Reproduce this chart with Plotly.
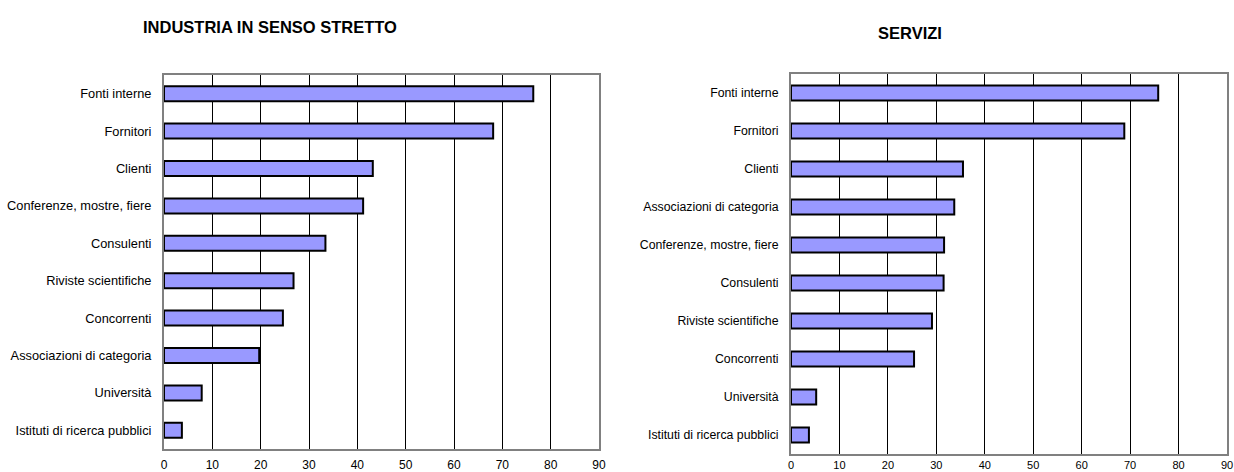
import plotly.graph_objects as go
from plotly.subplots import make_subplots

# ---- data ----
cat_industria = ["Fonti interne", "Fornitori", "Clienti", "Conferenze, mostre, fiere",
                 "Consulenti", "Riviste scientifiche", "Concorrenti",
                 "Associazioni di categoria", "Università", "Istituti di ricerca pubblici"]
val_industria = [76.4, 68.1, 43.2, 41.2, 33.4, 26.8, 24.6, 19.7, 7.8, 3.7]

cat_servizi = ["Fonti interne", "Fornitori", "Clienti", "Associazioni di categoria",
               "Conferenze, mostre, fiere", "Consulenti", "Riviste scientifiche",
               "Concorrenti", "Università", "Istituti di ricerca pubblici"]
val_servizi = [75.8, 68.8, 35.5, 33.7, 31.6, 31.5, 29.1, 25.4, 5.2, 3.7]

title_industria = "INDUSTRIA IN SENSO STRETTO"
title_servizi = "SERVIZI"
x_ticks = [0, 10, 20, 30, 40, 50, 60, 70, 80, 90]

W, H = 1234, 472
FONT = "Liberation Sans, Arial, sans-serif"
BAR_FILL = "#9999FF"

fig = make_subplots(rows=1, cols=2)

fig.add_trace(go.Bar(y=cat_industria, x=val_industria, orientation="h", width=0.4,
                     marker=dict(color=BAR_FILL, line=dict(color="black", width=2)),
                     showlegend=False), row=1, col=1)
fig.add_trace(go.Bar(y=cat_servizi, x=val_servizi, orientation="h", width=0.4,
                     marker=dict(color=BAR_FILL, line=dict(color="black", width=2)),
                     showlegend=False), row=1, col=2)

def px_x(a, b):
    return [a / W, b / W]

def px_y(top, bottom):
    return [1 - bottom / H, 1 - top / H]

xcommon = dict(range=[0, 90], tickvals=x_ticks, showgrid=True, gridcolor="black", gridwidth=1,
               zeroline=False, showline=True, linecolor="#808080", linewidth=2, mirror=True,
               tickcolor="rgba(0,0,0,0)", automargin=False, fixedrange=True)
ycommon = dict(autorange="reversed", showgrid=False, zeroline=False, showline=True,
               linecolor="#808080", linewidth=2, mirror=True, automargin=False,
               ticks="outside", ticklen=8, tickcolor="rgba(0,0,0,0)", fixedrange=True)

fig.update_layout(
    width=W, height=H, margin=dict(l=0, r=0, t=0, b=0),
    paper_bgcolor="white", plot_bgcolor="white", bargap=0.6,
    xaxis=dict(domain=px_x(164, 599), ticks="outside", ticklen=4,
               tickfont=dict(family=FONT, size=12, color="black"), **xcommon),
    xaxis2=dict(domain=px_x(791, 1227), ticks="",
                tickfont=dict(family=FONT, size=11, color="black"), **xcommon),
    yaxis=dict(domain=px_y(75, 449), tickfont=dict(family=FONT, size=12.8, color="black"), **ycommon),
    yaxis2=dict(domain=px_y(74, 454), tickfont=dict(family=FONT, size=12.3, color="black"), **ycommon),
    annotations=[
        dict(text="<b>" + title_industria + "</b>", x=270 / W, y=1 - 27 / H, xref="paper", yref="paper",
             xanchor="center", yanchor="middle", showarrow=False,
             font=dict(family=FONT, size=16.5, color="black")),
        dict(text="<b>" + title_servizi + "</b>", x=910 / W, y=1 - 33 / H, xref="paper", yref="paper",
             xanchor="center", yanchor="middle", showarrow=False,
             font=dict(family=FONT, size=16.5, color="black")),
    ],
)

fig.write_html("out.html")
